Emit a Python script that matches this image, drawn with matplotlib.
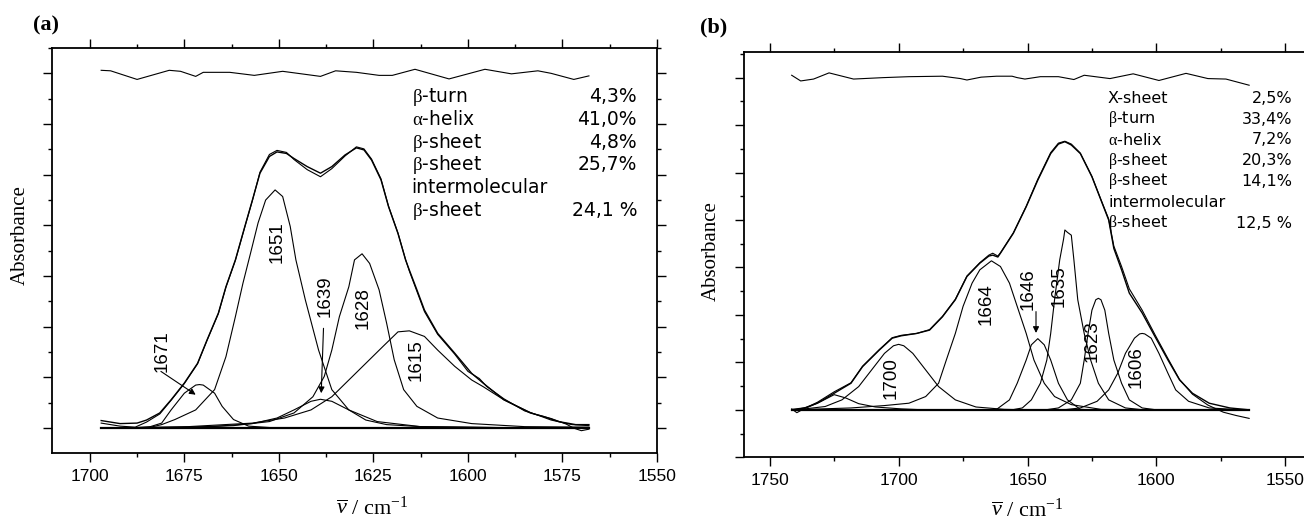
import matplotlib
matplotlib.use('Agg')
import matplotlib.pyplot as plt
from matplotlib.ticker import MultipleLocator

plt.rcParams['mathtext.fontset'] = 'custom'
plt.rcParams['mathtext.rm'] = 'Liberation Serif'
plt.rcParams['mathtext.it'] = 'Liberation Serif'
plt.rcParams['mathtext.sf'] = 'Liberation Serif:italic'

# ---------------------------------------------------------------- panel (a) data
res_a_x = [1697, 1694.5, 1687.5, 1679, 1676, 1672, 1670, 1663, 1656.5, 1649, 1645, 1639, 1635,
           1629.5, 1623.5, 1620, 1614, 1605, 1595.5, 1588.5, 1581.5, 1578, 1572, 1568]
res_a_y = [7.06, 7.05, 6.88, 7.06, 7.04, 6.94, 7.02, 7.02, 6.96, 7.04, 7.00, 6.94, 7.05,
           7.02, 6.96, 6.96, 7.08, 6.89, 7.08, 6.99, 7.05, 7.00, 6.88, 6.95]

env_a_x = [1697, 1692, 1687.5, 1685, 1681.5, 1678.5, 1675, 1671.5, 1669, 1666, 1664, 1661.5, 1659,
           1657, 1655, 1652.5, 1650.5, 1648, 1646, 1642.5, 1639, 1636, 1632.5, 1629.5, 1627.5,
           1625.5, 1623, 1621, 1618.5, 1616.5, 1615.5, 1613.5, 1611.5, 1608, 1603.5, 1599, 1596,
           1590.5, 1583.5, 1580, 1576, 1571.5, 1568]
env_a_y = [0.15, 0.09, 0.10, 0.16, 0.30, 0.56, 0.89, 1.28, 1.74, 2.27, 2.79, 3.32, 3.98,
           4.50, 5.03, 5.36, 5.45, 5.42, 5.32, 5.16, 5.03, 5.16, 5.39, 5.53, 5.49,
           5.29, 4.90, 4.37, 3.84, 3.32, 3.12, 2.73, 2.33, 1.87, 1.48, 1.08, 0.89,
           0.56, 0.30, 0.23, 0.13, 0.07, 0.07]

meas_a_x = [1697, 1692, 1688, 1685, 1681.5, 1678.5, 1675, 1671.5, 1669, 1666, 1664, 1661.5, 1659,
            1657, 1655, 1652.5, 1650.5, 1648, 1646, 1642.5, 1639, 1636, 1632.5, 1629.5, 1627.5,
            1625.5, 1623, 1621, 1618.5, 1616.5, 1615.5, 1613.5, 1611.5, 1608, 1603.5, 1600, 1597,
            1595, 1590.5, 1585, 1582, 1578, 1574, 1572, 1570, 1568]
meas_a_y = [0.10, 0.04, 0.02, 0.12, 0.28, 0.55, 0.88, 1.27, 1.73, 2.26, 2.78, 3.31, 3.97,
            4.49, 5.05, 5.40, 5.48, 5.44, 5.30, 5.10, 4.96, 5.12, 5.37, 5.55, 5.51,
            5.31, 4.92, 4.38, 3.85, 3.33, 3.10, 2.70, 2.30, 1.85, 1.46, 1.12, 0.98,
            0.82, 0.58, 0.34, 0.27, 0.19, 0.08, 0.00, -0.05, -0.02]

c1671_x = [1690, 1684, 1681, 1678.5, 1675, 1672, 1671, 1670, 1667, 1665, 1662, 1658, 1650]
c1671_y = [0.0, 0.03, 0.10, 0.36, 0.69, 0.85, 0.86, 0.85, 0.69, 0.43, 0.17, 0.04, 0.0]

c1651_x = [1697, 1685, 1681, 1677.5, 1672, 1667, 1664, 1661.5, 1659.5, 1657.5, 1655.5, 1653.5, 1651,
           1649, 1647, 1645.5, 1643, 1639.5, 1636, 1631.5, 1624, 1612.5, 1590, 1568]
c1651_y = [0.0, 0.0, 0.07, 0.17, 0.36, 0.76, 1.41, 2.20, 2.86, 3.45, 4.05, 4.50, 4.70,
           4.57, 3.98, 3.32, 2.53, 1.54, 0.76, 0.36, 0.13, 0.03, 0.01, 0.0]

c1639_x = [1697, 1685, 1668, 1657, 1650.5, 1646, 1641.5, 1639, 1636, 1631.5, 1627, 1621.5, 1612.5, 1590, 1568]
c1639_y = [0.0, 0.01, 0.03, 0.09, 0.20, 0.36, 0.53, 0.57, 0.53, 0.36, 0.16, 0.07, 0.03, 0.01, 0.0]

c1628_x = [1690, 1680, 1662, 1652.5, 1646, 1641, 1638, 1636, 1634, 1631.5, 1630, 1628, 1626,
           1623.5, 1621.5, 1619.5, 1617, 1613.5, 1608, 1599, 1585, 1568]
c1628_y = [0.0, 0.0, 0.05, 0.13, 0.30, 0.62, 1.02, 1.54, 2.20, 2.79, 3.32, 3.44, 3.25,
           2.73, 2.07, 1.35, 0.76, 0.43, 0.20, 0.09, 0.03, 0.02]

c1615_x = [1697, 1674, 1657, 1648.5, 1641.5, 1636, 1631.5, 1627, 1622.5, 1618.5, 1615.5, 1611.5,
           1608, 1603.5, 1599, 1596, 1590.5, 1583.5, 1578, 1572.5, 1568]
c1615_y = [0.0, 0.03, 0.10, 0.20, 0.36, 0.62, 0.95, 1.28, 1.61, 1.90, 1.92, 1.81,
           1.54, 1.22, 0.95, 0.82, 0.56, 0.31, 0.16, 0.07, 0.05]

base_a_x = [1697, 1568]
base_a_y = [0, 0]

peaks_a = ['1671', '1651', '1639', '1628', '1615']
struct_a = [r'$\beta$-turn', r'$\alpha$-helix', r'$\beta$-sheet', r'$\beta$-sheet', 'intermolecular', r'$\beta$-sheet']
pct_a = ['4,3%', '41,0%', '4,8%', '25,7%', '', '24,1 %']

# ---------------------------------------------------------------- panel (b) data
res_b_x = [1741.5, 1738, 1733, 1727, 1717.5, 1706, 1696, 1683, 1676, 1673.5, 1668, 1662, 1656,
           1654, 1651, 1645, 1638, 1632, 1628, 1618, 1609, 1599, 1588.5, 1580, 1573, 1564]
res_b_y = [7.05, 6.93, 6.97, 7.10, 6.97, 7.00, 7.02, 7.03, 6.98, 6.95, 7.01, 7.03, 7.03,
           7.00, 6.97, 7.02, 7.02, 6.96, 7.05, 6.98, 7.08, 6.94, 7.09, 6.98, 6.97, 6.84]

env_b_x = [1741, 1736.5, 1731.5, 1725, 1718.5, 1714, 1707.5, 1702.5, 1699, 1693, 1688, 1683, 1678,
           1673.5, 1668.5, 1665, 1663.5, 1661.5, 1660.5, 1655.5, 1650.5, 1646, 1641, 1638, 1635.5,
           1633, 1629.5, 1625, 1621.5, 1618.5, 1616.5, 1613.5, 1610.5, 1605.5, 1600.5, 1595.5, 1591,
           1586, 1579.5, 1571.5, 1564]
env_b_y = [0.01, 0.04, 0.14, 0.35, 0.56, 0.91, 1.26, 1.51, 1.56, 1.61, 1.68, 1.96, 2.32,
           2.81, 3.09, 3.24, 3.26, 3.22, 3.30, 3.72, 4.28, 4.84, 5.40, 5.60, 5.65,
           5.58, 5.40, 4.91, 4.42, 4.00, 3.40, 2.95, 2.46, 2.04, 1.54, 1.05, 0.63,
           0.35, 0.14, 0.04, 0.0]

meas_b_x = [1741.5, 1739.5, 1736.5, 1731.5, 1725, 1718.5, 1714, 1707.5, 1702.5, 1699, 1693, 1688, 1683,
            1678, 1673.5, 1668.5, 1665, 1663.5, 1661.5, 1660.5, 1655.5, 1650.5, 1646, 1641, 1638,
            1635.5, 1633, 1629.5, 1625, 1621.5, 1618.5, 1616.5, 1613.5, 1610.5, 1605.5, 1600.5,
            1595.5, 1591, 1586, 1580, 1574, 1569, 1564]
meas_b_y = [0.02, -0.06, 0.03, 0.16, 0.38, 0.57, 0.92, 1.27, 1.52, 1.57, 1.61, 1.69, 1.97,
            2.33, 2.82, 3.10, 3.26, 3.30, 3.24, 3.31, 3.73, 4.29, 4.86, 5.42, 5.62,
            5.66, 5.60, 5.41, 4.92, 4.43, 4.02, 3.45, 3.02, 2.55, 2.10, 1.58,
            1.08, 0.64, 0.33, 0.10, -0.05, -0.12, -0.18]

c1725_x = [1741, 1739.5, 1735, 1730, 1725, 1720.5, 1715.5, 1709, 1699, 1690]
c1725_y = [0.0, 0.01, 0.06, 0.18, 0.32, 0.25, 0.13, 0.06, 0.02, 0.0]

c1700_x = [1741, 1738, 1728.5, 1722, 1715.5, 1710.5, 1705.5, 1702, 1700, 1698, 1694.5, 1689.5,
           1684.5, 1678, 1670, 1659, 1650]
c1700_y = [0.0, 0.01, 0.07, 0.21, 0.49, 0.84, 1.19, 1.35, 1.38, 1.35, 1.19, 0.84,
           0.49, 0.21, 0.06, 0.01, 0.0]

c1664_x = [1741, 1718.5, 1705.5, 1696, 1689.5, 1684.5, 1681.5, 1678, 1675, 1671.5, 1668.5, 1664,
           1660.5, 1657, 1654, 1650.5, 1647.5, 1643.5, 1639.5, 1633, 1621.5, 1610]
c1664_y = [0.0, 0.04, 0.09, 0.14, 0.28, 0.56, 1.05, 1.61, 2.18, 2.67, 2.95, 3.14,
           3.02, 2.67, 2.18, 1.61, 1.05, 0.56, 0.28, 0.11, 0.01, 0.0]

c1646_x = [1665, 1662, 1657, 1654, 1650.5, 1648.5, 1646, 1643.5, 1641, 1638, 1634.5, 1629.5, 1625]
c1646_y = [0.0, 0.01, 0.21, 0.56, 1.05, 1.37, 1.50, 1.37, 1.05, 0.56, 0.21, 0.01, 0.0]

c1635_x = [1656, 1652, 1648.5, 1645, 1642.5, 1641, 1639.5, 1637.5, 1636, 1635.5, 1634.5, 1633,
           1632, 1630.5, 1628, 1625.5, 1622.5, 1618.5, 1612, 1605]
c1635_y = [0.0, 0.04, 0.21, 0.56, 1.05, 1.61, 2.32, 3.16, 3.60, 3.79, 3.74, 3.68,
           3.16, 2.32, 1.61, 1.05, 0.56, 0.21, 0.04, 0.0]

c1623_x = [1643, 1638, 1633, 1629.5, 1628, 1626.5, 1625, 1623.5, 1622.5, 1621.5, 1620, 1618.5,
           1616.5, 1613.5, 1610.5, 1605.5, 1600]
c1623_y = [0.0, 0.04, 0.21, 0.56, 1.05, 1.61, 2.10, 2.32, 2.35, 2.32, 2.10, 1.61,
           1.05, 0.56, 0.21, 0.04, 0.0]

c1606_x = [1636, 1629.5, 1623, 1618.5, 1615, 1612, 1608.5, 1606.5, 1605.5, 1604.5, 1602, 1599,
           1595.5, 1592.5, 1587.5, 1579.5, 1570, 1564]
c1606_y = [0.0, 0.04, 0.18, 0.42, 0.77, 1.19, 1.51, 1.60, 1.61, 1.60, 1.51, 1.19,
           0.77, 0.42, 0.18, 0.04, 0.01, 0.0]

base_b_x = [1741.5, 1564]
base_b_y = [0, 0]

peaks_b = ['1700', '1664', '1646', '1635', '1623', '1606']
struct_b = ['X-sheet', r'$\beta$-turn', r'$\alpha$-helix', r'$\beta$-sheet', r'$\beta$-sheet',
            'intermolecular', r'$\beta$-sheet']
pct_b = ['2,5%', '33,4%', '7,2%', '20,3%', '14,1%', '', '12,5 %']

# ---------------------------------------------------------------- layout
lab_pos_a = [(1681, 1.52), (1650.4, 3.67), (1637.7, 2.61), (1627.6, 2.37), (1613.6, 1.35)]
lab_pos_b = [(1702.8, 0.68), (1666.1, 2.23), (1649.9, 2.55), (1637.8, 2.61), (1625.1, 1.45), (1607.8, 0.90)]

serif = 'Liberation Serif'
sans = 'Liberation Sans'


def style_axes(ax, major, minor):
    ax.xaxis.set_major_locator(MultipleLocator(major))
    ax.xaxis.set_minor_locator(MultipleLocator(minor))
    ax.yaxis.set_major_locator(MultipleLocator(1))
    ax.yaxis.set_minor_locator(MultipleLocator(0.5))
    ax.tick_params(which='both', direction='out', top=True, right=True,
                   labelleft=False, width=1.0, pad=5,
                   labelfontfamily=sans, labelsize=12.5)
    ax.tick_params(which='major', length=6.5)
    ax.tick_params(which='minor', length=3)
    for sp in ax.spines.values():
        sp.set_linewidth(1.3)


fig = plt.figure(figsize=(13.04, 5.2), dpi=100)

# ---------------------------------------------------------------- panel (a)
ax1 = fig.add_axes([52 / 1304, 67 / 520, 605 / 1304, 405 / 520])
lw = 0.8
ax1.plot(res_a_x, res_a_y, c='k', lw=lw)
for xs, ys in [(c1671_x, c1671_y), (c1651_x, c1651_y), (c1639_x, c1639_y),
               (c1628_x, c1628_y), (c1615_x, c1615_y)]:
    ax1.plot(xs, ys, c='k', lw=lw)
ax1.plot(meas_a_x, meas_a_y, c='k', lw=lw)
ax1.plot(env_a_x, env_a_y, c='k', lw=1.0)
ax1.plot(base_a_x, base_a_y, c='k', lw=1.6)

ax1.set_xlim(1710, 1550)
ax1.set_ylim(-0.49, 7.5)
style_axes(ax1, 25, 12.5)

for txt, (px, py) in zip(peaks_a, lab_pos_a):
    ax1.text(px, py, txt, rotation=90, ha='center', va='center',
             fontfamily=sans, fontsize=13.5)

arw = dict(arrowstyle='-|>', color='k', lw=0.8, mutation_scale=9, shrinkA=0, shrinkB=0)
ax1.annotate('', xy=(1672, 0.66), xytext=(1681.2, 1.12), arrowprops=arw)
ax1.annotate('', xy=(1638.8, 0.69), xytext=(1638.2, 1.97), arrowprops=arw)

for i in range(len(struct_a)):
    yy = (453 - (96.7 + 22.7 * i)) / 405
    ax1.text(0.5945, yy, struct_a[i], transform=ax1.transAxes, ha='left', va='center',
             fontfamily='DejaVu Sans', fontsize=13.5)
    ax1.text(0.967, yy, pct_a[i], transform=ax1.transAxes, ha='right', va='center',
             fontfamily='DejaVu Sans', fontsize=13.5)

ax1.set_xlabel(r'$\overline{\mathsf{\nu}}$ / cm$^{\mathrm{-1}}$', fontfamily=serif, fontsize=16, va='center')
ax1.xaxis.set_label_coords(0.529, -0.136)
ax1.set_ylabel('Absorbance', fontfamily=serif, fontsize=15, va='center')
ax1.yaxis.set_label_coords(-0.053, 0.538)

# ---------------------------------------------------------------- panel (b)
ax2 = fig.add_axes([744 / 1304, 62.7 / 520, 567 / 1304, 405.3 / 520])
ax2.plot(res_b_x, res_b_y, c='k', lw=lw)
for xs, ys in [(c1725_x, c1725_y), (c1700_x, c1700_y), (c1664_x, c1664_y), (c1646_x, c1646_y),
               (c1635_x, c1635_y), (c1623_x, c1623_y), (c1606_x, c1606_y)]:
    ax2.plot(xs, ys, c='k', lw=lw)
ax2.plot(meas_b_x, meas_b_y, c='k', lw=lw)
ax2.plot(env_b_x, env_b_y, c='k', lw=1.0)
ax2.plot(base_b_x, base_b_y, c='k', lw=1.6)

ax2.set_xlim(1760, 1540)
ax2.set_ylim(-1.0, 7.54)
style_axes(ax2, 50, 25)

for txt, (px, py) in zip(peaks_b, lab_pos_b):
    ax2.text(px, py, txt, rotation=90, ha='center', va='center',
             fontfamily=sans, fontsize=13.5)

ax2.annotate('', xy=(1646.7, 1.62), xytext=(1646.7, 2.07), arrowprops=arw)

for i in range(len(struct_b)):
    yy = (457.3 - (98.3 + 20.8 * i)) / 405.3
    ax2.text(0.642, yy, struct_b[i], transform=ax2.transAxes, ha='left', va='center',
             fontfamily='DejaVu Sans', fontsize=11.5)
    ax2.text(0.9665, yy, pct_b[i], transform=ax2.transAxes, ha='right', va='center',
             fontfamily='DejaVu Sans', fontsize=11.5)

ax2.set_xlabel(r'$\overline{\mathsf{\nu}}$ / cm$^{\mathrm{-1}}$', fontfamily=serif, fontsize=16, va='center')
ax2.xaxis.set_label_coords(0.499, -0.130)
ax2.set_ylabel('Absorbance', fontfamily=serif, fontsize=15, va='center')
ax2.yaxis.set_label_coords(-0.058, 0.510)

fig.text(33 / 1304, 1 - 25 / 520, '(a)', fontfamily=serif, fontweight='bold', fontsize=16,
         ha='left', va='center')
fig.text(700 / 1304, 1 - 27 / 520, '(b)', fontfamily=serif, fontweight='bold', fontsize=16,
         ha='left', va='center')

plt.savefig('out.png', dpi=100)
